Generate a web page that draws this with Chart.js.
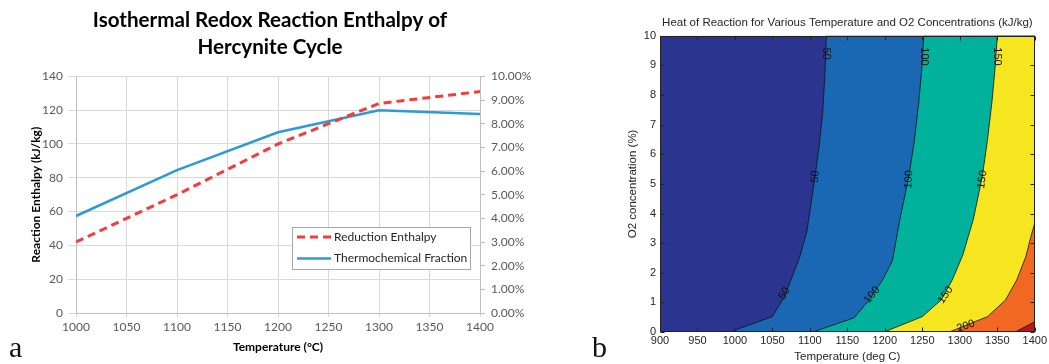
<!DOCTYPE html>
<html>
<head>
<meta charset="utf-8">
<script src="https://cdn.jsdelivr.net/npm/chart.js@4.4.0/dist/chart.umd.min.js"></script>
<style>
  body { margin: 0; width: 1049px; height: 364px; background: #fff; position: relative; overflow: hidden; }
  canvas { position: absolute; top: 0; }
  #chartA { left: 0; }
  #chartB { left: 580px; }
  .tag { position: absolute; font-family: 'Liberation Serif', serif; font-size: 30px; line-height: 30px; color: #111; }
</style>
</head>
<body>
<canvas id="chartA" width="540" height="364"></canvas>
<canvas id="chartB" width="469" height="364"></canvas>
<div class="tag" style="left:9px; top:332px;">a</div>
<div class="tag" style="left:592px; top:332px;">b</div>
<script>
// ---- panel a data ----
const temps = [1000, 1100, 1200, 1300, 1400];
const reductionEnthalpy = [42, 70, 100, 124, 131];      // kJ/kg
const thermoFraction = [4.1, 6.04, 7.64, 8.57, 8.41];   // %

// ---- panel b data (contour lines, temperature vs O2 %) ----
const contourLevels = [50, 100, 150, 200, 250];
const c50T   = [993, 1050, 1066, 1086, 1096, 1106, 1112, 1117, 1120, 1122];
const c50O2  = [0, 0.52, 1.2, 2.5, 3.4, 5.1, 6.2, 7.4, 8.7, 10];
const c100T  = [1104, 1159, 1179, 1197, 1210, 1220, 1232, 1239, 1245, 1249, 1252];
const c100O2 = [0, 0.48, 1.08, 1.76, 2.4, 3.8, 5.25, 6.4, 7.7, 8.8, 10];
const c150T  = [1199, 1250, 1275, 1290, 1304, 1318, 1330, 1337, 1343, 1347, 1350];
const c150O2 = [0, 0.52, 1.08, 1.76, 2.6, 3.8, 5.25, 6.5, 7.8, 8.9, 10];
const c200T  = [1286, 1337, 1361, 1376, 1388, 1396, 1400];
const c200O2 = [0, 0.52, 1.08, 1.76, 2.54, 3.33, 3.68];
const c250T  = [1374, 1400];
const c250O2 = [0, 0.35];
const levelColors = ['#2b3590', '#1a67b3', '#00b29b', '#f5e61f', '#f16823', '#b3181d'];
const contourLabels = [
  { text: '50',  t: 1122, o2: 9.4,  rot: 90 },
  { text: '50',  t: 1107, o2: 5.25, rot: -88 },
  { text: '50',  t: 1066, o2: 1.3,  rot: -60 },
  { text: '100', t: 1252, o2: 9.3,  rot: 90 },
  { text: '100', t: 1232, o2: 5.15, rot: -86 },
  { text: '100', t: 1183, o2: 1.25, rot: -52 },
  { text: '150', t: 1350, o2: 9.3,  rot: 90 },
  { text: '150', t: 1330, o2: 5.15, rot: -82 },
  { text: '150', t: 1281, o2: 1.25, rot: -55 },
  { text: '200', t: 1308, o2: 0.2,  rot: -20 }
];

const fontA = "Lato, 'Open Sans', sans-serif";
const fontB = "'Liberation Sans', Arial, sans-serif";

const legendBoxA = {
  id: 'legendBoxA',
  afterDraw(chart) {
    const ctx = chart.ctx;
    ctx.save();
    ctx.fillStyle = '#fff';
    ctx.fillRect(292.5, 227.5, 178, 42);
    ctx.strokeStyle = '#a6a6a6';
    ctx.lineWidth = 1;
    ctx.strokeRect(292.5, 227.5, 178, 42);
    chart.data.datasets.forEach((ds, i) => {
      const y = 237 + i * 21.5;
      ctx.beginPath();
      ctx.setLineDash(ds.borderDash || []);
      ctx.strokeStyle = ds.borderColor;
      ctx.lineWidth = ds.borderWidth;
      ctx.moveTo(297, y);
      ctx.lineTo(331, y);
      ctx.stroke();
      ctx.setLineDash([]);
      ctx.fillStyle = '#262626';
      ctx.font = '12px ' + fontA;
      ctx.textBaseline = 'middle';
      ctx.fillText(ds.label, 334, y);
    });
    ctx.restore();
  }
};

new Chart(document.getElementById('chartA'), {
  type: 'line',
  data: {
    datasets: [
      {
        label: 'Reduction Enthalpy',
        data: temps.map((t, i) => ({ x: t, y: reductionEnthalpy[i] })),
        yAxisID: 'y',
        borderColor: '#f83a3a',
        borderWidth: 3,
        borderDash: [8, 5],
        pointRadius: 0,
        order: 0
      },
      {
        label: 'Thermochemical Fraction',
        data: temps.map((t, i) => ({ x: t, y: thermoFraction[i] })),
        yAxisID: 'y1',
        borderColor: '#2e9ad6',
        borderWidth: 2.5,
        pointRadius: 0,
        order: 1
      }
    ]
  },
  options: {
    responsive: false,
    animation: false,
    layout: { padding: 0 },
    plugins: {
      legend: { display: false },
      tooltip: { enabled: false },
      title: {
        display: true,
        text: ['Isothermal Redox Reaction Enthalpy of', 'Hercynite Cycle'],
        color: '#000',
        font: { family: fontA, size: 20.6, weight: 'bold', lineHeight: 1.32 },
        padding: { top: 7, bottom: 15 }
      }
    },
    scales: {
      x: {
        type: 'linear', min: 1000, max: 1400,
        ticks: { stepSize: 50, color: '#595959', font: { family: fontA, size: 12 }, padding: 3, maxRotation: 0, callback: v => String(v) },
        grid: { color: '#d9d9d9', tickLength: 4 },
        border: { color: '#bfbfbf' },
        title: { display: true, text: 'Temperature (°C)', color: '#000', font: { family: fontA, size: 12, weight: 'bold' }, padding: { top: 0, bottom: 10 } },
        afterFit: s => { s.height = 51; }
      },
      y: {
        position: 'left', min: 0, max: 140,
        ticks: { stepSize: 20, color: '#595959', font: { family: fontA, size: 12 }, padding: 5 },
        grid: { color: '#d9d9d9', tickLength: 8 },
        border: { color: '#bfbfbf' },
        title: { display: true, text: 'Reaction Enthalpy (kJ/kg)', color: '#000', font: { family: fontA, size: 12, weight: 'bold' }, padding: { top: 29, bottom: 0 } },
        afterFit: s => { s.width = 76; }
      },
      y1: {
        position: 'right', min: 0, max: 10,
        ticks: { stepSize: 1, color: '#595959', font: { family: fontA, size: 12 }, padding: 6, callback: v => v.toFixed(2) + '%' },
        grid: { drawOnChartArea: false, tickLength: 5, color: '#bfbfbf' },
        border: { color: '#bfbfbf' },
        afterFit: s => { s.width = 60; }
      }
    }
  },
  plugins: [legendBoxA]
});

// ---- panel b ----
const tMin = 900, tMax = 1400, o2Min = 0, o2Max = 10;

function regionAbove(T, O2) {
  const pts = T.map((t, i) => ({ x: t, y: O2[i] }));
  if (pts[pts.length - 1].y >= o2Max) pts.push({ x: tMax, y: o2Max });
  pts.push({ x: tMax, y: o2Min });
  pts.push(pts[0]);
  return pts;
}

const regions = [
  [{ x: tMin, y: o2Min }, { x: tMin, y: o2Max }, { x: tMax, y: o2Max }, { x: tMax, y: o2Min }, { x: tMin, y: o2Min }],
  regionAbove(c50T, c50O2),
  regionAbove(c100T, c100O2),
  regionAbove(c150T, c150O2),
  regionAbove(c200T, c200O2),
  regionAbove(c250T, c250O2)
];

const frameB = {
  id: 'frameB',
  afterDatasetsDraw(chart) {
    const { ctx, chartArea: a, scales: { x, y } } = chart;
    ctx.save();
    // contour labels
    ctx.fillStyle = '#111';
    ctx.font = '11px ' + fontB;
    ctx.textAlign = 'center';
    ctx.textBaseline = 'middle';
    contourLabels.forEach(l => {
      ctx.save();
      ctx.translate(x.getPixelForValue(l.t), y.getPixelForValue(l.o2));
      ctx.rotate(l.rot * Math.PI / 180);
      ctx.fillText(l.text, 0, 0);
      ctx.restore();
    });
    // box and inward ticks
    const L = Math.round(a.left) + 0.5, R = Math.round(a.right) - 0.5;
    const T = Math.round(a.top) + 0.5, B = Math.round(a.bottom) - 0.5;
    ctx.strokeStyle = '#222';
    ctx.lineWidth = 1;
    ctx.strokeRect(L, T, R - L, B - T);
    ctx.beginPath();
    x.ticks.forEach(t => {
      const px = Math.round(x.getPixelForValue(t.value)) + 0.5;
      ctx.moveTo(px, B); ctx.lineTo(px, B - 4);
      ctx.moveTo(px, T); ctx.lineTo(px, T + 4);
    });
    y.ticks.forEach(t => {
      const py = Math.round(y.getPixelForValue(t.value)) + 0.5;
      ctx.moveTo(L, py); ctx.lineTo(L + 4, py);
      ctx.moveTo(R, py); ctx.lineTo(R - 4, py);
    });
    ctx.stroke();
    ctx.restore();
  }
};

new Chart(document.getElementById('chartB'), {
  type: 'line',
  data: {
    datasets: regions.map((pts, i) => ({
      label: i === 0 ? '< ' + contourLevels[0] : '> ' + contourLevels[i - 1],
      data: pts,
      backgroundColor: levelColors[i],
      borderColor: '#111',
      borderWidth: i === 0 ? 0 : 0.8,
      fill: 'shape',
      pointRadius: 0,
      tension: 0,
      order: regions.length - i
    }))
  },
  options: {
    responsive: false,
    animation: false,
    layout: { padding: { right: 13 } },
    plugins: {
      legend: { display: false },
      tooltip: { enabled: false },
      title: {
        display: true,
        fullSize: false,
        text: 'Heat of Reaction for Various Temperature and O2 Concentrations (kJ/kg)',
        color: '#262626',
        font: { family: fontB, size: 11.5, weight: 'normal', lineHeight: 1.2 },
        padding: { top: 16, bottom: 6 }
      }
    },
    scales: {
      x: {
        type: 'linear', min: tMin, max: tMax,
        ticks: { stepSize: 50, color: '#262626', font: { family: fontB, size: 11 }, padding: 2, maxRotation: 0, autoSkip: false, callback: v => String(v) },
        grid: { display: false, drawTicks: false },
        border: { display: false },
        title: { display: true, text: 'Temperature (deg C)', color: '#262626', font: { family: fontB, size: 11.5 }, padding: { top: 0, bottom: 0 } },
        afterFit: s => { s.height = 32; }
      },
      y: {
        min: o2Min, max: o2Max,
        ticks: { stepSize: 1, color: '#262626', font: { family: fontB, size: 11 }, padding: 4 },
        grid: { display: false, drawTicks: false },
        border: { display: false },
        title: { display: true, text: 'O2 concentration (%)', color: '#262626', font: { family: fontB, size: 11.5 }, padding: { top: 46, bottom: 0 } },
        afterFit: s => { s.width = 80; }
      }
    }
  },
  plugins: [frameB]
});
</script>
</body>
</html>
